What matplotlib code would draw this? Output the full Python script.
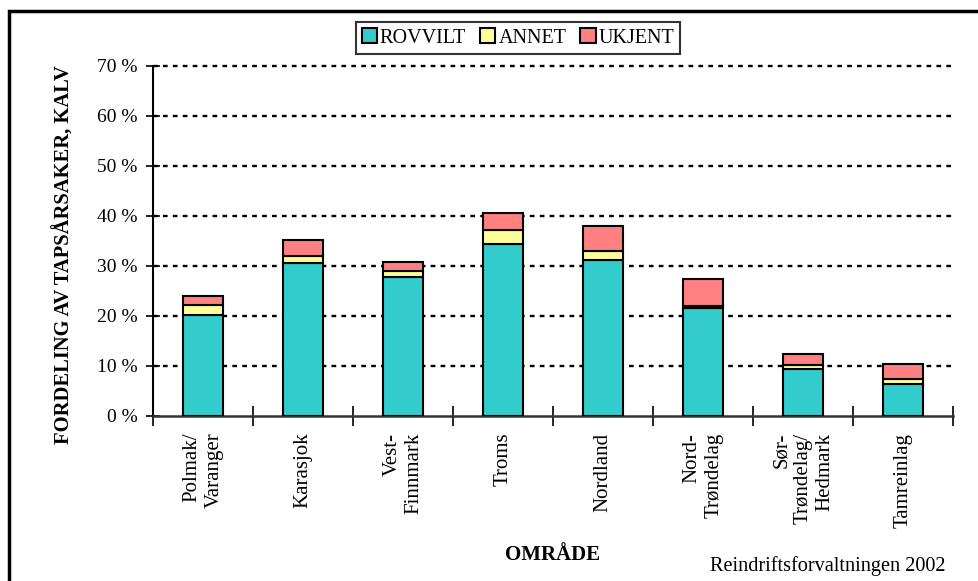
import matplotlib.pyplot as plt
import matplotlib.patches as mpatches
import numpy as np

plt.rcParams['font.family'] = ['Liberation Serif', 'DejaVu Serif']

omrade = ["Polmak/\nVaranger", "Karasjok", "Vest-\nFinnmark", "Troms", "Nordland",
          "Nord-\nTrøndelag", "Sør-\nTrøndelag/\nHedmark", "Tamreinlag"]
rovvilt = [20.2, 30.6, 27.8, 34.4, 31.2, 21.7, 9.5, 6.4]
annet = [2.1, 1.4, 1.2, 2.8, 1.8, 0.3, 0.7, 1.1]
ukjent = [1.8, 3.2, 1.8, 3.5, 5.0, 5.5, 2.2, 3.0]

colors = {"ROVVILT": "#33CCCC", "ANNET": "#FFFF99", "UKJENT": "#FF8080"}

W, H = 979, 581
fig = plt.figure(figsize=(W / 100, H / 100), dpi=100)
ax = fig.add_axes([153 / W, (H - 416) / H, 800 / W, 350 / H])

x = np.arange(len(omrade))
bottom = np.zeros(len(omrade))
for name, vals in [("ROVVILT", rovvilt), ("ANNET", annet), ("UKJENT", ukjent)]:
    ax.bar(x, vals, width=0.4, bottom=bottom, color=colors[name],
           edgecolor="black", linewidth=1.5, label=name, zorder=3)
    bottom += np.array(vals)

ax.set_xlim(-0.5, len(omrade) - 0.5)
ax.set_ylim(0, 70)

# dotted gridlines
for yv in range(10, 80, 10):
    ax.axhline(yv, color="black", lw=1.7, ls=(0, (2, 2.2)), zorder=1, clip_on=False)

ax.set_yticks(range(0, 80, 10))
ax.set_yticklabels([f"{v} %" for v in range(0, 80, 10)], fontsize=14)
ax.tick_params(axis="y", direction="inout", length=10, width=1.2, pad=6)

ax.set_xticks(x)
ax.set_xticklabels(omrade, rotation=90, fontsize=15, va="top", linespacing=1.2)
for lbl in ax.get_xticklabels():
    lbl.set_multialignment("right")
ax.tick_params(axis="x", length=0, pad=12)
ax.set_xticks(np.arange(-0.5, len(omrade)), minor=True)
ax.tick_params(axis="x", which="minor", direction="inout", length=14, width=1.2)

for side in ["top", "right"]:
    ax.spines[side].set_visible(False)
ax.spines["left"].set_linewidth(1.5)
ax.spines["bottom"].set_linewidth(1.8)
ax.spines["bottom"].set_color("#333333")

fig.text(64 / W, 1 - 255 / H, "FORDELING AV TAPSÅRSAKER, KALV", rotation=90,
         fontsize=14.8, fontweight="bold", ha="center", va="center")
fig.text(553 / W, 1 - 555 / H, "OMRÅDE", fontsize=15, fontweight="bold",
         ha="center", va="center")
fig.text(946 / W, 1 - 566 / H, "Reindriftsforvaltningen 2002", fontsize=14.6,
         ha="right", va="center")

handles = [mpatches.Patch(facecolor=colors[k], edgecolor="black", linewidth=1.5, label=k)
           for k in colors]
leg = fig.legend(handles=handles, loc="center", bbox_to_anchor=(518 / W, 1 - 38 / H),
                 ncol=3, fontsize=14.5, frameon=True, fancybox=False, shadow=False,
                 handlelength=0.75, handleheight=0.75, handletextpad=0.15,
                 columnspacing=0.7, borderpad=0.3, borderaxespad=0)
leg.get_frame().set_edgecolor("black")
leg.get_frame().set_linewidth(1.5)

# outer frame
fig.patches.append(mpatches.Rectangle((9 / W, -0.1), 2, 1 - 11 / H + 0.1,
                                      transform=fig.transFigure, fill=False,
                                      edgecolor="black", linewidth=2.5))

fig.savefig("out.png", dpi=100)
